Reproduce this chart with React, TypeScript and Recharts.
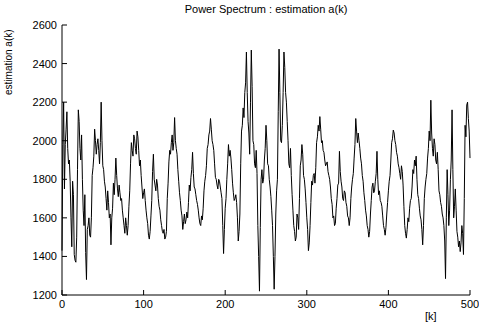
import React from 'react';
import { LineChart, Line, XAxis, YAxis } from 'recharts';

// a(k) at even k = 0, 2, ..., 500
const evenSamples = [
  1430, 2200, 1980, 2150, 1880, 1790, 1450, 1720, 1380, 1500,
  2160, 1960, 2030, 1640, 1720, 1280, 1560, 1510, 1600, 1860,
  2060, 1930, 2010, 1880, 2200, 1870, 1790, 1700, 1740, 1600,
  1460, 1650, 1720, 1910, 1750, 1770, 1690, 1640, 1560, 1600,
  1510, 1660, 1880, 1950, 2030, 1960, 2050, 1950, 1900, 1760,
  1730, 1690, 1600, 1510, 1530, 1690, 1930, 1770, 1800, 1700,
  1640, 1560, 1520, 1490, 1530, 1780, 1950, 1990, 1950, 2120,
  1960, 1850, 1730, 1640, 1540, 1620, 1590, 1600, 1770, 1810,
  1940, 1760, 1720, 1670, 1600, 1560, 1590, 1740, 1820, 1960,
  2030, 2115, 2000, 1950, 1810, 1770, 1800, 1760, 1700, 1415,
  1650, 1800, 1980, 1950, 1850, 1730, 1700, 1680, 1480, 1620,
  2050, 2170, 2250, 2460, 2100, 1930, 2470, 2000, 1880, 1950,
  1560, 1220, 1800, 1780, 1900, 2080, 1880, 1800, 1710, 1560,
  1230, 1620, 1800, 2475, 2000, 2080, 2460, 2250, 2100, 1880,
  1960, 1720, 1560, 1480, 1620, 1540, 1870, 1980, 1820, 1750,
  1600, 1430, 1560, 1790, 1820, 1780, 1990, 2080, 2125, 1990,
  1950, 1900, 1880, 1840, 1800, 1700, 1600, 1560, 1650, 1770,
  1945, 1790, 1700, 1740, 1680, 1610, 1560, 1700, 1800, 1910,
  2115, 1990, 2000, 1910, 1820, 1730, 1640, 1560, 1500, 1620,
  1760, 1730, 1790, 1945, 1720, 1690, 1660, 1560, 1510, 1620,
  1740, 1820, 1990, 2055, 2000, 1940, 1880, 1830, 1870, 1770,
  1560, 1495, 1600, 1650, 1700, 1850, 1900, 1920, 1720, 1650,
  1590, 1460, 1700, 1800, 1910, 2050, 2210, 1960, 2010, 1900,
  1940, 1740, 1680, 1620, 1560, 1285, 1850, 1560, 1800, 2160,
  1600, 1750, 1530, 1450, 1425, 1560, 1410, 2080, 2185, 2115,
  1910,
];

// a(k) at odd k = 1, 3, ..., 499 (the fast jitter between the even samples)
const oddSamples = [
  1980, 1750, 2060, 1960, 1900, 1600, 1790, 1410, 1370, 1850,
  2100, 1900, 1800, 1560, 1420, 1540, 1600, 1500, 1820, 1920,
  2000, 1980, 1950, 1990, 2000, 1850, 1760, 1640, 1680, 1620,
  1600, 1780, 1800, 1820, 1710, 1730, 1700, 1600, 1520, 1560,
  1560, 1740, 1990, 1920, 2010, 1930, 2020, 1870, 1820, 1700,
  1750, 1640, 1570, 1490, 1610, 1840, 1800, 1740, 1770, 1660,
  1590, 1530, 1540, 1500, 1700, 1890, 1930, 2030, 1990, 2000,
  1930, 1790, 1690, 1610, 1580, 1570, 1630, 1680, 1740, 1850,
  1830, 1750, 1690, 1640, 1570, 1610, 1650, 1790, 1870, 1980,
  2050, 2060, 1980, 1880, 1800, 1750, 1790, 1730, 1560, 1540,
  1700, 1880, 1920, 1910, 1780, 1690, 1720, 1600, 1530, 1880,
  2080, 2120, 2300, 2250, 2040, 2200, 2280, 1980, 1860, 1830,
  1400, 1550, 1850, 1800, 1960, 2000, 1870, 1760, 1640, 1400,
  1400, 1740, 2150, 2250, 1990, 2250, 2380, 2200, 2000, 1860,
  1820, 1640, 1530, 1500, 1600, 1700, 1900, 1930, 1800, 1680,
  1540, 1470, 1680, 1770, 1830, 1860, 2020, 2050, 2060, 2000,
  1940, 1870, 1890, 1820, 1760, 1670, 1610, 1570, 1700, 1780,
  1840, 1760, 1690, 1730, 1660, 1600, 1600, 1760, 1830, 1980,
  2050, 2040, 1960, 1880, 1790, 1690, 1610, 1540, 1530, 1690,
  1780, 1740, 1830, 1800, 1740, 1680, 1610, 1540, 1550, 1680,
  1790, 1900, 2010, 2040, 1980, 1920, 1860, 1800, 1840, 1660,
  1520, 1540, 1580, 1690, 1760, 1830, 1870, 1800, 1700, 1610,
  1540, 1560, 1760, 1830, 1960, 2000, 2040, 1920, 1980, 1880,
  1850, 1720, 1660, 1600, 1480, 1600, 1720, 1640, 1900, 1850,
  1660, 1640, 1500, 1480, 1470, 1520, 1700, 2020, 2200, 2050,
];

const xTicks = [0, 100, 200, 300, 400, 500];
const yTicks = [1200, 1400, 1600, 1800, 2000, 2200, 2400, 2600];

const data: { k: number; a: number }[] = [];
evenSamples.forEach((v, i) => {
  data.push({ k: 2 * i, a: v });
  if (i < oddSamples.length) data.push({ k: 2 * i + 1, a: oddSamples[i] });
});

const FONT = '"Liberation Sans", Arial, sans-serif';

// MATLAB style ticks: short marks pointing into the box
const LeftTick = (props: any) => {
  const { x, y, payload } = props;
  return (
    <g>
      <line x1={x} y1={y} x2={x + 5} y2={y} stroke="#000" />
      <text x={x - 5} y={y + 4} textAnchor="end" fontSize={11} fontFamily={FONT} fill="#000">
        {payload.value}
      </text>
    </g>
  );
};

const RightTick = (props: any) => {
  const { x, y } = props;
  return <line x1={x} y1={y} x2={x - 5} y2={y} stroke="#000" />;
};

const BottomTick = (props: any) => {
  const { x, y, payload } = props;
  return (
    <g>
      <line x1={x} y1={y} x2={x} y2={y - 5} stroke="#000" />
      <text x={x} y={y + 13} textAnchor="middle" fontSize={11} fontFamily={FONT} fill="#000">
        {payload.value}
      </text>
    </g>
  );
};

const TopTick = (props: any) => {
  const { x, y } = props;
  return <line x1={x} y1={y} x2={x} y2={y + 5} stroke="#000" />;
};

export default function App() {
  return (
    <div style={{ position: 'absolute', left: 0, top: 0, width: 479, height: 327, background: '#fff' }}>
      <LineChart width={479} height={327} data={data} margin={{ top: 25, right: 9, bottom: 12, left: 0 }}>
        <XAxis
          xAxisId="b"
          dataKey="k"
          type="number"
          domain={[0, 500]}
          ticks={xTicks}
          height={20}
          tickSize={0}
          tickMargin={0}
          tickLine={false}
          tick={<BottomTick />}
          axisLine={{ stroke: '#000' }}
          interval={0}
        />
        <XAxis
          xAxisId="t"
          orientation="top"
          dataKey="k"
          type="number"
          domain={[0, 500]}
          ticks={xTicks}
          height={0}
          tickSize={0}
          tickMargin={0}
          tickLine={false}
          tick={<TopTick />}
          axisLine={{ stroke: '#000' }}
          interval={0}
        />
        <YAxis
          yAxisId="l"
          type="number"
          domain={[1200, 2600]}
          ticks={yTicks}
          width={62}
          tickSize={0}
          tickMargin={0}
          tickLine={false}
          tick={<LeftTick />}
          axisLine={{ stroke: '#000' }}
          interval={0}
        />
        <YAxis
          yAxisId="r"
          orientation="right"
          type="number"
          domain={[1200, 2600]}
          ticks={yTicks}
          width={0}
          tickSize={0}
          tickMargin={0}
          tickLine={false}
          tick={<RightTick />}
          axisLine={{ stroke: '#000' }}
          interval={0}
        />
        <Line
          xAxisId="b"
          yAxisId="l"
          type="linear"
          dataKey="a"
          stroke="#000"
          strokeWidth={1}
          dot={false}
          isAnimationActive={false}
        />
      </LineChart>
      <div
        style={{
          position: 'absolute', left: 62, width: 408, top: 3, textAlign: 'center',
          fontFamily: FONT, fontSize: 11, color: '#000', whiteSpace: 'nowrap',
        }}
      >
        Power Spectrum : estimation a(k)
      </div>
      <div
        style={{
          position: 'absolute', left: 3, top: 95, transform: 'rotate(-90deg)', transformOrigin: 'left top',
          fontFamily: FONT, fontSize: 10, color: '#000', whiteSpace: 'nowrap',
        }}
      >
        estimation a(k)
      </div>
      <div style={{ position: 'absolute', left: 425, top: 310, fontFamily: FONT, fontSize: 11, color: '#000' }}>
        [k]
      </div>
    </div>
  );
}
